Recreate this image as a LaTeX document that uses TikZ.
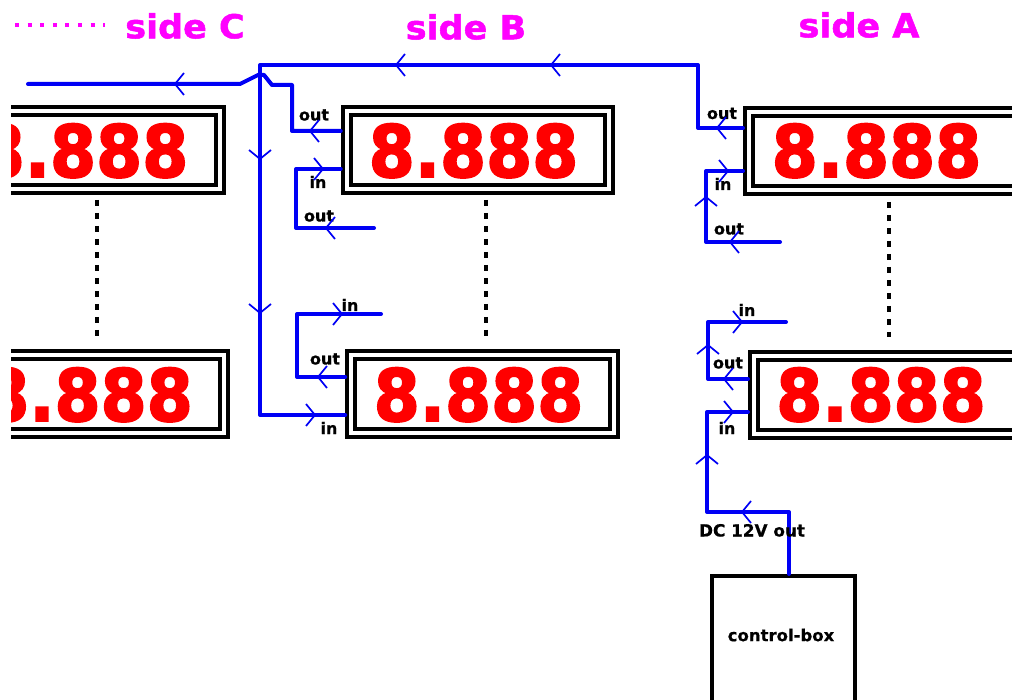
\documentclass[tikz,border=0pt]{standalone}
\usepackage{graphicx}
\usepackage{fontspec}
\setmainfont{DejaVu Sans}
\definecolor{wire}{RGB}{0,0,245}
\definecolor{mag}{RGB}{255,0,255}
\newcommand\fsz[1]{\fontsize{#1}{#1}\selectfont\bfseries}
\newcommand\hvy[2]{\fontsize{#1}{#1}\selectfont\bfseries\addfontfeature{FakeBold=#2}}
\newcommand\headL[2]{\draw[barb] ({#1+9},{#2-11}) -- (#1,#2) -- ({#1+9},{#2+11});}
\newcommand\headR[2]{\draw[barb] ({#1-9},{#2-11}) -- (#1,#2) -- ({#1-9},{#2+11});}
\newcommand\headU[2]{\draw[barb] ({#1-11},{#2+9}) -- (#1,#2) -- ({#1+11},{#2+9});}
\newcommand\headD[2]{\draw[barb] ({#1-11},{#2-9}) -- (#1,#2) -- ({#1+11},{#2-9});}
\newcommand\digits{\scalebox{.92}[1]{\hvy{72}{2.5}8.888}}
\newcommand\sidetext[1]{\scalebox{1.06}[1]{\hvy{33}{1.5}#1}}
\tikzset{
  x=1pt,y=-1pt,
  display/.style={draw=black,fill=white,double=white,double distance=4pt,line width=4pt,
    minimum width=262.5pt,minimum height=78pt,inner sep=0pt,outer sep=6pt},
  displaycut/.style={display,minimum width=300pt},
  readout/.style={text=red,inner sep=0pt,outer sep=0pt,anchor=base},
  wirepath/.style={draw=wire,line width=4pt,line join=round,line cap=round},
  barb/.style={draw=wire,line width=1.7pt},
  tag/.style={inner sep=0pt,anchor=base,font=\hvy{16}{0.6}},
  sidelab/.style={text=mag,inner sep=0pt},
  gapdots/.style={draw=black,line width=4pt,dash pattern=on 6pt off 7pt},
  controlbox/.style={draw=black,line width=4pt,fill=white,minimum width=143pt,minimum height=170pt,
    inner sep=0pt,outer sep=2pt},
}
\begin{document}
\begin{tikzpicture}
\clip (0,0) rectangle (1012,700);
\fill[white] (0,0) rectangle (1012,700);
% side labels
\node[sidelab] (sc) at (185,26) {\sidetext{side C}};
\node[sidelab] (sb) at (466,27) {\sidetext{side B}};
\node[sidelab] (sa) at (859,25) {\sidetext{side A}};
\coordinate (mda) at (15,25);
\coordinate (mdb) at (105,25);
\draw[mag,line width=4pt,dash pattern=on 4pt off 8.6pt] (mda) -- (mdb);
% side C (cut at the left)
\begin{scope}
\clip (11,0) rectangle (300,700);
\node[display] (ct) at (89,150) {};
\node[display] (cb) at (93,394) {};
\node[readout] (ctr) at (83.5,177) {\digits};
\node[readout] (cbr) at (88,421) {\digits};
\end{scope}
% side B
\node[display] (bt) at (478,150) {};
\node[display] (bb) at (482.5,394) {};
\node[readout] (btr) at (473.5,177) {\digits};
\node[readout] (bbr) at (478.5,421) {\digits};
% side A
\node[displaycut] (at) at (899,151) {};
\node[displaycut] (ab) at (904,395) {};
\node[readout] (atr) at (876.5,177) {\digits};
\node[readout] (abr) at (881,421) {\digits};
% control box
\node[controlbox] (box) at (783,661) {};
\node[inner sep=0pt,font=\hvy{16.5}{0.6}] (boxt) at (781,635) {control-box};
% dotted gaps
\coordinate (d1a) at (97,200); \coordinate (d1b) at (97,337);
\coordinate (d2a) at (486,200); \coordinate (d2b) at (486,337);
\coordinate (d3a) at (889,202); \coordinate (d3b) at (889,337);
\draw[gapdots] (d1a) -- (d1b);
\draw[gapdots] (d2a) -- (d2b);
\draw[gapdots] (d3a) -- (d3b);
% free ends
\coordinate (e1) at (28,84);
\coordinate (e2) at (374,228);
\coordinate (e3) at (381,314);
\coordinate (e4) at (780,242);
\coordinate (e5) at (786,322);
% wires
\draw[wirepath] ([yshift=23pt]at.west) -- (698,128) -- (698,65) -- (260,65) -- (260,415) -- ([yshift=-21pt]bb.west);
\draw[wirepath] (e1) -- (240,84) -- (258,75) -- (264,75) -- (272,85) -- (292,85) -- (292,131) -- ([yshift=19pt]bt.west);
\draw[wirepath] ([yshift=-19pt]bt.west) -- (296,169) -- (296,228) -- (e2);
\draw[wirepath] (e3) -- (297,314) -- (297,377) -- ([yshift=17pt]bb.west);
\draw[wirepath] ([yshift=-20pt]at.west) -- (706,171) -- (706,242) -- (e4);
\draw[wirepath] (e5) -- (708,322) -- (708,379) -- ([yshift=16pt]ab.west);
\draw[wirepath] ([yshift=-17pt]ab.west) -- (707,412) -- (707,512) -- (789,512) -- (box.north -| 789,0);
% tags
\node[tag] (t1) at (314,120.5) {out};
\node[tag] (t2) at (318,188) {in};
\node[tag] (t3) at (319,221.5) {out};
\node[tag] (t4) at (350,311) {in};
\node[tag] (t5) at (325,364.5) {out};
\node[tag] (t6) at (329,434) {in};
\node[tag] (t7) at (722,119) {out};
\node[tag] (t8) at (723,190) {in};
\node[tag] (t9) at (729,234.5) {out};
\node[tag] (t10) at (747,316) {in};
\node[tag] (t11) at (728,368.5) {out};
\node[tag] (t12) at (727,434) {in};
\node[tag,font=\hvy{16.8}{0.6}] (t13) at (752,536.5) {DC 12V out};
% arrowheads
\headL{175}{84}
\headL{396}{65}
\headL{551}{65}
\headD{260}{159}
\headD{260}{313}
\headR{315}{415}
\headL{310}{131}
\headR{323}{169}
\headL{326}{228}
\headR{342}{314}
\headL{318}{377}
\headL{717}{128}
\headR{728}{171}
\headU{706}{197}
\headL{730}{242}
\headR{742}{322}
\headU{708}{345}
\headL{724}{379}
\headR{733}{412}
\headU{707}{455}
\headL{742}{512}
\end{tikzpicture}
\end{document}
